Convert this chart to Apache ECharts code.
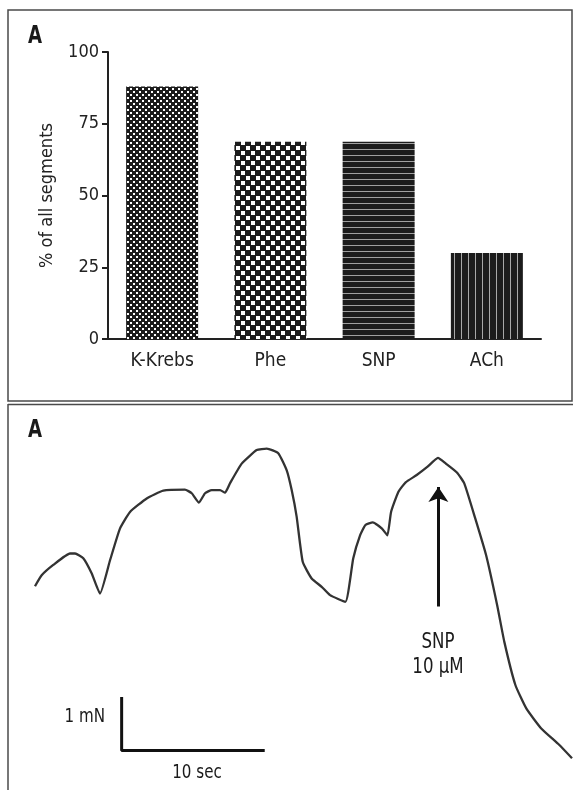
<!DOCTYPE html>
<html>
<head>
<meta charset="utf-8">
<script src="https://cdn.jsdelivr.net/npm/echarts@6/dist/echarts.min.js"></script>
<style>
  html, body { margin: 0; padding: 0; background: #fff; }
  #main { width: 573px; height: 790px; }
</style>
</head>
<body>
<div id="main"></div>
<script>
// bar panel
var categories = ['K-Krebs', 'Phe', 'SNP', 'ACh'];
var percentSegments = [88, 68.75, 68.75, 30];

// trace panel (time in sec, force in mN)
var traceTime = [0.0, 0.47, 1.29, 2.47, 2.83, 3.41, 4.00, 4.59, 5.30, 6.00, 6.71, 7.89, 9.06, 10.59,
  11.07, 11.58, 12.01, 12.48, 13.07, 13.42, 13.77, 14.60, 15.66, 16.37, 17.18, 17.78, 18.13, 18.48,
  18.91, 19.54, 20.25, 20.84, 21.92, 22.48, 22.96, 23.34, 23.86, 24.51, 24.89, 25.15, 25.67, 26.18,
  26.96, 27.73, 28.46, 29.02, 29.80, 30.32, 31.09, 31.86, 32.64, 33.15, 33.93, 34.70, 35.74, 37.02, 37.93];
var traceForce = [3.92, 4.13, 4.33, 4.55, 4.55, 4.46, 4.17, 3.78, 4.42, 5.03, 5.35, 5.61, 5.76, 5.78,
  5.71, 5.53, 5.71, 5.77, 5.77, 5.72, 5.90, 6.28, 6.54, 6.57, 6.48, 6.15, 5.77, 5.26,
  4.39, 4.07, 3.91, 3.75, 3.62, 4.46, 4.90, 5.10, 5.15, 5.03, 4.90, 5.35, 5.74, 5.92,
  6.06, 6.22, 6.39, 6.28, 6.11, 5.90, 5.23, 4.52, 3.56, 2.85, 2.02, 1.57, 1.19, 0.87, 0.61];
var snpTime = 28.49;
var snpArrowForce = [3.53, 5.83];
var scaleBarOrigin = [6.12, 0.76];
var scaleBarTime = 10;   // sec
var scaleBarForce = 1;   // mN

var FONT = "'DejaVu Sans Condensed', 'Liberation Sans Narrow', sans-serif";
var DARK = '#1c1c1c';
var NARROW = 0.84;

function makePattern(w, h, draw) {
  var c = document.createElement('canvas');
  c.width = w; c.height = h;
  var ctx = c.getContext('2d');
  ctx.fillStyle = DARK;
  ctx.fillRect(0, 0, w, h);
  draw(ctx);
  return { image: c, repeat: 'repeat' };
}

var patterns = [
  makePattern(6, 6, function (ctx) {
    ctx.fillStyle = '#fff';
    ctx.fillRect(1, 1, 2, 2);
    ctx.fillRect(4, 4, 2, 2);
  }),
  makePattern(10, 10, function (ctx) {
    ctx.fillStyle = '#fff';
    ctx.fillRect(1, 1, 4, 4);
    ctx.fillRect(6, 6, 4, 4);
  }),
  makePattern(6, 6, function (ctx) {
    ctx.fillStyle = '#a0a0a0';
    ctx.fillRect(0, 5, 6, 1);
  }),
  makePattern(7, 7, function (ctx) {
    ctx.fillStyle = '#a8a8a8';
    ctx.fillRect(6, 0, 1, 7);
  })
];

function label(txt, x, y, size, align, bold) {
  return {
    type: 'text', x: x, y: y, scaleX: NARROW,
    style: {
      text: txt, font: (bold ? 'bold ' : '') + size + 'px ' + FONT, fill: '#1a1a1a',
      align: align, verticalAlign: 'middle'
    }
  };
}

var myChart = echarts.init(document.getElementById('main'));

var option = {
  animation: false,
  backgroundColor: '#fff',
  textStyle: { fontFamily: FONT },
  grid: [
    { left: 108, right: 32, top: 52, bottom: 451 },
    { left: 35, right: 0, top: 395, bottom: 0 }
  ],
  xAxis: [{
    type: 'category',
    gridIndex: 0,
    data: categories,
    axisLine: { lineStyle: { color: '#222', width: 2 } },
    axisTick: { alignWithLabel: true, length: 7, lineStyle: { color: '#222', width: 2 } },
    axisLabel: { color: '#222', fontSize: 19, margin: 13, fontFamily: FONT }
  }, {
    type: 'value',
    gridIndex: 1,
    min: 0,
    max: 38,
    show: false
  }],
  yAxis: [{
    type: 'value',
    gridIndex: 0,
    min: 0,
    max: 100,
    interval: 25,
    name: '% of all segments',
    nameLocation: 'middle',
    nameGap: 52,
    nameTextStyle: { color: '#222', fontSize: 18, fontFamily: FONT },
    splitLine: { show: false },
    axisLine: { show: true, lineStyle: { color: '#222', width: 2 } },
    axisTick: { show: true, length: 6, lineStyle: { color: '#222', width: 2 } },
    axisLabel: { color: '#222', fontSize: 18, margin: 9, fontFamily: FONT }
  }, {
    type: 'value',
    gridIndex: 1,
    min: 0,
    max: 7.6,
    show: false
  }],
  series: [{
    type: 'bar',
    xAxisIndex: 0,
    yAxisIndex: 0,
    barCategoryGap: '33.5%',
    data: percentSegments.map(function (v, i) {
      return { value: v, itemStyle: { color: patterns[i] } };
    })
  }, {
    type: 'line',
    xAxisIndex: 1,
    yAxisIndex: 1,
    symbol: 'none',
    smooth: 0.15,
    lineStyle: { color: '#333', width: 2.3 },
    data: traceTime.map(function (t, i) { return [t, traceForce[i]]; })
  }, {
    // scale bar
    type: 'line',
    xAxisIndex: 1,
    yAxisIndex: 1,
    symbol: 'none',
    lineStyle: { color: '#111', width: 3, cap: 'square' },
    data: [
      [scaleBarOrigin[0], scaleBarOrigin[1] + scaleBarForce],
      [scaleBarOrigin[0], scaleBarOrigin[1]],
      [scaleBarOrigin[0] + scaleBarTime, scaleBarOrigin[1]]
    ]
  }, {
    // SNP arrow
    type: 'lines',
    coordinateSystem: 'cartesian2d',
    xAxisIndex: 1,
    yAxisIndex: 1,
    symbol: ['none', 'arrow'],
    symbolSize: [0, 15],
    lineStyle: { color: '#111', width: 3, opacity: 1, curveness: 0 },
    data: [{ coords: [[snpTime, snpArrowForce[0]], [snpTime, snpArrowForce[1]]] }]
  }],
  graphic: [
    { type: 'rect', shape: { x: 8, y: 10, width: 564, height: 391 },
      style: { fill: 'none', stroke: '#4a4a4a', lineWidth: 1.5 }, silent: true },
    { type: 'line', shape: { x1: 8, y1: 404.5, x2: 573, y2: 404.5 },
      style: { stroke: '#4a4a4a', lineWidth: 1.5 }, silent: true },
    { type: 'line', shape: { x1: 8, y1: 404, x2: 8, y2: 790 },
      style: { stroke: '#4a4a4a', lineWidth: 1.5 }, silent: true },
    label('A', 28, 37, 24, 'left', true),
    label('A', 28, 431, 24, 'left', true),
    label('SNP', 438, 642, 22, 'center'),
    label('10 \u03bcM', 438, 667, 22, 'center'),
    label('1 mN', 105, 717, 20, 'right'),
    label('10 sec', 197, 773, 20, 'center')
  ]
};

myChart.setOption(option);
</script>
</body>
</html>
